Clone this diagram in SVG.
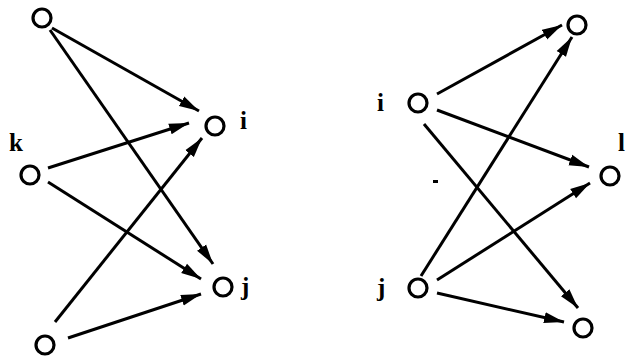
<svg xmlns="http://www.w3.org/2000/svg" width="627" height="358" viewBox="0 0 627 358">
<defs>
<style>
.e{stroke:#000;stroke-width:3;fill:none;marker-end:url(#ah)}
.n{fill:none;stroke:#000;stroke-width:3.2}
.t{font-family:"Liberation Serif",serif;font-weight:bold;font-size:25px;fill:#000}
</style>
<marker id="ah" markerUnits="userSpaceOnUse" markerWidth="20" markerHeight="12" viewBox="0 0 20 12" refX="20" refY="6" orient="auto">
<path d="M0,0.5 L20,6 L0,11.5 Z" fill="#000"/>
</marker>
</defs>
<rect width="627" height="358" fill="#fff"/>
<g id="edges">
<line class="e" x1="52" y1="28" x2="199" y2="111"/>
<line class="e" x1="50" y1="30" x2="213" y2="264"/>
<line class="e" x1="48" y1="168" x2="189" y2="123"/>
<line class="e" x1="48" y1="182" x2="201" y2="279"/>
<line class="e" x1="55" y1="322" x2="202" y2="138"/>
<line class="e" x1="68" y1="338" x2="201" y2="294"/>
<line class="e" x1="437" y1="94" x2="562" y2="25"/>
<line class="e" x1="437" y1="110" x2="589" y2="167"/>
<line class="e" x1="424" y1="124" x2="578" y2="308"/>
<line class="e" x1="421" y1="276" x2="572" y2="37"/>
<line class="e" x1="437" y1="280" x2="590" y2="183"/>
<line class="e" x1="437" y1="293" x2="564" y2="322"/>
</g>
<g id="n_top_left"><circle class="n" cx="42" cy="18" r="9"/></g>
<g id="n_k"><circle class="n" cx="30" cy="175" r="9"/><text class="t" x="9" y="151">k</text></g>
<g id="n_bottom_left"><circle class="n" cx="45" cy="345" r="9"/></g>
<g id="n_i_left"><circle class="n" cx="215" cy="126" r="9"/><text class="t" x="240" y="129">i</text></g>
<g id="n_j_left"><circle class="n" cx="223" cy="287" r="9"/><text class="t" x="241" y="295">j</text></g>
<g id="n_top_right"><circle class="n" cx="577" cy="25" r="9"/></g>
<g id="n_i_right"><circle class="n" cx="418" cy="103" r="9"/><text class="t" x="377" y="111">i</text></g>
<g id="n_l"><circle class="n" cx="610" cy="176" r="9"/><text class="t" x="618" y="151">l</text></g>
<g id="n_j_right"><circle class="n" cx="418" cy="288" r="9"/><text class="t" x="377" y="296">j</text></g>
<g id="n_bottom_right"><circle class="n" cx="583" cy="328" r="9"/></g>
<rect x="433" y="180" width="5" height="3" fill="#000"/>
</svg>
